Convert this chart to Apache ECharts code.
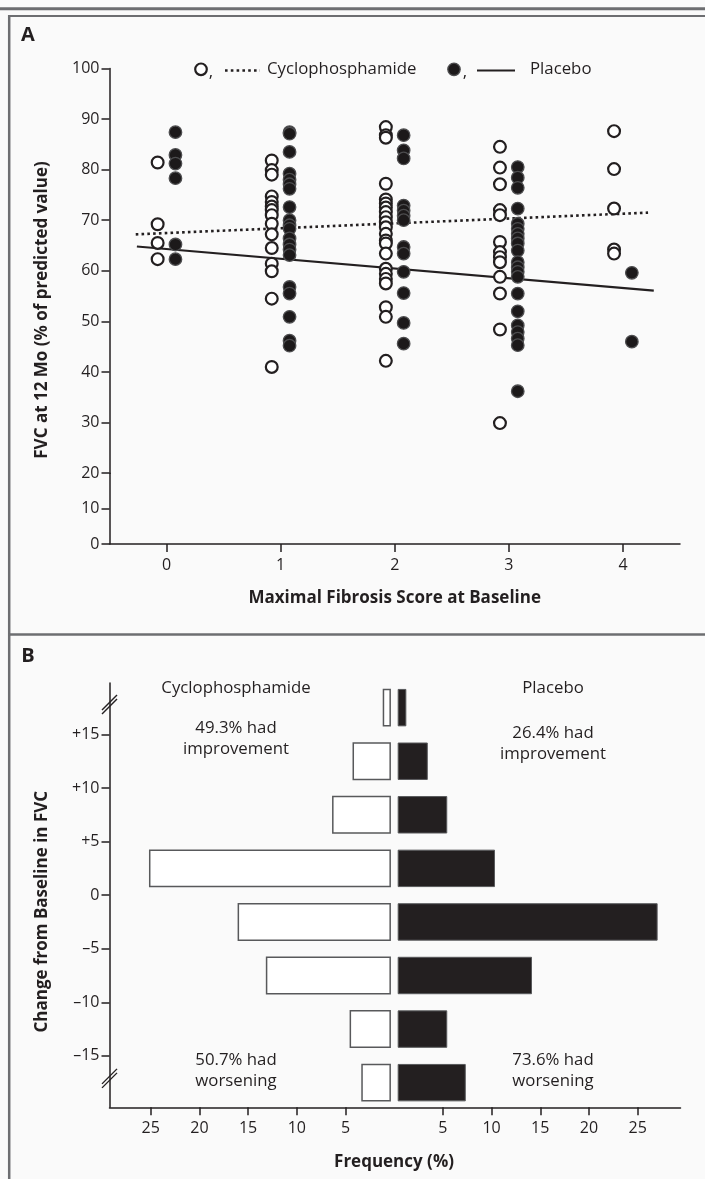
<!DOCTYPE html>
<html>
<head>
<meta charset="utf-8">
<script src="https://cdn.jsdelivr.net/npm/echarts@6/dist/echarts.min.js"></script>
<style>
html,body{margin:0;padding:0;background:#fafafa;}
#c{width:705px;height:1179px;}
</style>
</head>
<body>
<div id="c"></div>
<script>
// ---------- Panel A data (FVC at 12 months, % predicted) ----------
const scores = [0, 1, 2, 3, 4];
const cyclo0 = [81.4, 69.2, 65.5, 62.3];
const cyclo1 = [81.8, 79.9, 79.0, 74.7, 73.6, 72.7, 72.0, 71.0, 69.3, 67.2, 64.5, 61.4, 59.9, 54.5, 41.0];
const cyclo2 = [88.4, 86.8, 86.3, 77.2, 74.1, 73.3, 72.5, 71.6, 70.6, 69.6, 68.6, 67.3, 66.0, 65.4, 63.4, 60.4, 59.4, 58.4, 57.5, 52.8, 50.9, 42.2];
const cyclo3 = [84.5, 80.4, 77.1, 72.0, 71.0, 65.7, 63.7, 62.7, 61.7, 58.8, 55.5, 48.4, 29.9];
const cyclo4 = [87.6, 80.1, 72.3, 64.2, 63.4];
const placebo0 = [87.4, 82.9, 81.2, 78.3, 65.2, 62.3];
const placebo1 = [87.4, 87.1, 83.5, 79.2, 78.0, 77.1, 76.2, 72.6, 70.0, 69.0, 68.3, 66.4, 65.2, 64.2, 63.1, 56.8, 55.5, 50.9, 46.2, 45.2];
const placebo2 = [86.8, 83.8, 82.2, 72.9, 71.9, 70.9, 70.0, 64.7, 63.4, 59.8, 55.6, 49.7, 45.6];
const placebo3 = [80.5, 78.4, 76.4, 72.3, 69.3, 68.3, 67.3, 66.4, 65.4, 64.0, 61.7, 60.7, 59.8, 58.8, 55.5, 52.0, 49.2, 47.9, 46.6, 45.3, 36.2];
const placebo4 = [59.6, 46.0];
const cycloFit = [[-0.27, 67.2], [4.22, 71.5]];
const placeboFit = [[-0.26, 64.8], [4.27, 56.1]];
const fvcTicksUpper = [20, 100, 10];   // min, max, step
const fvcTicksLower = [0, 20, 10];
const scoreTicks = [0, 1, 2, 3, 4];

// ---------- Panel B data (change from baseline in FVC) ----------
const binUpper = [20, 15, 10, 5, 0, -5, -10, -15];
const binLower = [15, 10, 5, 0, -5, -10, -15, -20];
const cycloFreq = [1.1, 4.2, 6.3, 25.1, 16.0, 13.1, 4.5, 3.3];
const placeboFreq = [1.2, 3.4, 5.4, 10.3, 27.0, 14.1, 5.4, 7.3];
const changeTicks = [-15, -10, -5, 0, 5, 10, 15];
const freqTicks = [-25, -20, -15, -10, -5, 5, 10, 15, 20, 25];

// ---------- styling ----------
const ink = '#231f20';
const frame = '#6d6e71';
const FONT = "'Open Sans', 'DejaVu Sans', sans-serif";
const jitter = 0.078;

const cols = [cyclo0, cyclo1, cyclo2, cyclo3, cyclo4];
const pcols = [placebo0, placebo1, placebo2, placebo3, placebo4];
const cycloPts = [], placeboPts = [];
scores.forEach((s, i) => {
  cols[i].forEach(v => cycloPts.push([s - jitter, v]));
  pcols[i].forEach(v => placeboPts.push([s + jitter, v]));
});
const binCenter = binUpper.map((u, i) => (u + binLower[i]) / 2);

const axLine = {show: true, onZero: false, lineStyle: {color: ink, width: 1.5}};
const axTick = {show: true, inside: false, length: 8, lineStyle: {color: ink, width: 1.5}};
const yLabel = {color: ink, fontFamily: FONT, fontSize: 16, margin: 10};
const xLabel = {color: ink, fontFamily: FONT, fontSize: 16, margin: 13};

function barRenderer(side, style) {
  return function (params, api) {
    const f = api.value(0), c = api.value(1);
    const pEnd = api.coord([side * f, c]);
    const p0 = api.coord([0, c]);
    const h = api.size([0, 5])[1] * 0.68;
    const gap = 4;
    let x0, x1;
    if (side < 0) { x0 = pEnd[0]; x1 = p0[0] - gap; } else { x0 = p0[0] + gap; x1 = pEnd[0]; }
    return {type: 'rect', shape: {x: x0, y: p0[1] - h / 2, width: Math.max(x1 - x0, 0), height: h}, style: style};
  };
}

const chart = echarts.init(document.getElementById('c'), null, {renderer: 'canvas'});
const option = {
  animation: false,
  backgroundColor: '#fafafa',
  textStyle: {fontFamily: FONT},
  grid: [
    {left: 109.5, top: 68.4, width: 570.5, height: 404.8, outerBoundsMode: 'none', containLabel: false},
    {left: 109.5, top: 473.2, width: 570.5, height: 70.8, outerBoundsMode: 'none', containLabel: false},
    {left: 109.5, top: 683, width: 571, height: 424.3, outerBoundsMode: 'none', containLabel: false}
  ],
  xAxis: [
    {gridIndex: 0, type: 'value', min: -0.5, max: 4.5, show: false},
    {gridIndex: 1, type: 'value', min: -0.5, max: 4.5, axisLine: axLine,
      axisTick: Object.assign({}, axTick, {customValues: scoreTicks}),
      axisLabel: Object.assign({}, xLabel, {customValues: scoreTicks}),
      splitLine: {show: false}},
    {gridIndex: 2, type: 'value', min: -29.23, max: 29.4, axisLine: axLine,
      axisTick: Object.assign({}, axTick, {customValues: freqTicks}),
      axisLabel: Object.assign({}, xLabel, {customValues: freqTicks,
        formatter: v => String(Math.abs(v))}),
      splitLine: {show: false}}
  ],
  yAxis: [
    {gridIndex: 0, type: 'value', min: fvcTicksUpper[0], max: fvcTicksUpper[1], interval: fvcTicksUpper[2],
      axisLine: axLine, axisTick: axTick, axisLabel: Object.assign({}, yLabel, {showMinLabel: false}),
      splitLine: {show: false}},
    {gridIndex: 1, type: 'value', min: fvcTicksLower[0], max: fvcTicksLower[1], interval: fvcTicksLower[2],
      axisLine: axLine, axisTick: axTick, axisLabel: yLabel, splitLine: {show: false}},
    {gridIndex: 2, type: 'value', min: -19.8, max: 19.8, axisLine: axLine,
      axisTick: Object.assign({}, axTick, {customValues: changeTicks}),
      axisLabel: Object.assign({}, yLabel, {customValues: changeTicks,
        formatter: v => v > 0 ? '+' + v : (v < 0 ? '\u2013' + (-v) : '0')}),
      splitLine: {show: false}}
  ],
  series: [
    {type: 'line', xAxisIndex: 0, yAxisIndex: 0, data: cycloFit, symbol: 'none', z: 2,
      lineStyle: {color: ink, width: 2.6, type: [2.6, 3.2]}},
    {type: 'line', xAxisIndex: 0, yAxisIndex: 0, data: placeboFit, symbol: 'none', z: 2,
      lineStyle: {color: ink, width: 2.2, type: 'solid'}},
    {type: 'scatter', xAxisIndex: 0, yAxisIndex: 0, data: cycloPts, symbol: 'circle', symbolSize: 11.8, z: 3,
      itemStyle: {color: '#ffffff', borderColor: ink, borderWidth: 2.2, opacity: 1}},
    {type: 'scatter', xAxisIndex: 0, yAxisIndex: 0, data: placeboPts, symbol: 'circle', symbolSize: 12.5, z: 4,
      itemStyle: {color: '#1c191a', borderColor: '#4d4d4f', borderWidth: 1.3, opacity: 1}},
    {type: 'custom', xAxisIndex: 2, yAxisIndex: 2, z: 3,
      data: cycloFreq.map((f, i) => [f, binCenter[i]]),
      renderItem: barRenderer(-1, {fill: '#ffffff', stroke: '#58595b', lineWidth: 1.5})},
    {type: 'custom', xAxisIndex: 2, yAxisIndex: 2, z: 3,
      data: placeboFreq.map((f, i) => [f, binCenter[i]]),
      renderItem: barRenderer(1, {fill: '#231f20', stroke: '#58595b', lineWidth: 1})}
  ]
};
chart.setOption(option);

function txt(x, y, s, size, weight, extra) {
  return Object.assign({type: 'text', x: x, y: y, z: 10,
    style: {text: s, fill: ink, fontFamily: FONT, fontSize: size, fontWeight: weight || 'normal',
      textAlign: 'center', align: 'center', textVerticalAlign: 'middle', verticalAlign: 'middle'}}, extra || {});
}
function seg(x1, y1, x2, y2, w, color, dash) {
  const st = {stroke: color, lineWidth: w};
  if (dash) st.lineDash = dash;
  return {type: 'line', z: 10, shape: {x1: x1, y1: y1, x2: x2, y2: y2}, style: st};
}

const bTop = chart.convertToPixel({gridIndex: 2}, [0, 17.8]);
const bBot = chart.convertToPixel({gridIndex: 2}, [0, -17.1]);
const axX = chart.convertToPixel({gridIndex: 2}, [-29.23, 0])[0];

const graphics = [
  // frame
  seg(0, 8.7, 705, 8.7, 3, frame),
  seg(8, 16, 705, 16, 2, frame),
  seg(9.2, 15, 9.2, 1179, 2.5, frame),
  seg(8, 634.5, 705, 634.5, 2.5, frame),
  // panel letters
  txt(28, 35, 'A', 20, 'bold'),
  txt(28, 656.5, 'B', 20, 'bold'),
  // legend
  {type: 'circle', z: 10, shape: {cx: 201, cy: 69.3, r: 5.8}, style: {fill: '#fff', stroke: ink, lineWidth: 2.2}},
  txt(211, 72, ',', 17, 'normal'),
  seg(225, 70.5, 260, 70.5, 2.6, ink, [2.6, 3.2]),
  txt(267, 69.3, 'Cyclophosphamide', 16.8, 'normal', {}),
  {type: 'circle', z: 10, shape: {cx: 454, cy: 69.3, r: 6.2}, style: {fill: '#1c191a', stroke: '#4d4d4f', lineWidth: 1.3}},
  txt(465, 72, ',', 17, 'normal'),
  seg(477, 70.5, 515, 70.5, 2.2, ink),
  txt(530, 69.3, 'Placebo', 16.8, 'normal', {}),
  // axis titles panel A
  txt(42, 310, 'FVC at 12 Mo (% of predicted value)', 17, 'bold', {rotation: Math.PI / 2}),
  txt(394.7, 598.3, 'Maximal Fibrosis Score at Baseline', 17, 'bold'),
  // panel B texts
  txt(236, 688.5, 'Cyclophosphamide', 16.8),
  txt(236, 728, '49.3% had', 16.8),
  txt(236, 749.5, 'improvement', 16.8),
  txt(553, 688.5, 'Placebo', 16.8),
  txt(553, 733.3, '26.4% had', 16.8),
  txt(553, 754.5, 'improvement', 16.8),
  txt(236, 1060.7, '50.7% had', 16.8),
  txt(236, 1081.5, 'worsening', 16.8),
  txt(553, 1060.7, '73.6% had', 16.8),
  txt(553, 1081.5, 'worsening', 16.8),
  txt(42, 911.7, 'Change from Baseline in FVC', 17, 'bold', {rotation: Math.PI / 2}),
  txt(394, 1161.7, 'Frequency (%)', 17, 'bold'),
  // axis break marks
  seg(axX - 7.5, bTop[1] + 9.5, axX + 7.5, bTop[1] - 5.5, 1.4, ink),
  seg(axX - 7.5, bTop[1] + 5.5, axX + 7.5, bTop[1] - 9.5, 1.4, ink),
  seg(axX - 7.5, bBot[1] + 9.5, axX + 7.5, bBot[1] - 5.5, 1.4, ink),
  seg(axX - 7.5, bBot[1] + 5.5, axX + 7.5, bBot[1] - 9.5, 1.4, ink)
];
// left-aligned legend labels
graphics[9].style.textAlign = 'left'; graphics[9].style.align = 'left';
graphics[13].style.textAlign = 'left'; graphics[13].style.align = 'left';
chart.setOption({graphic: graphics});
</script>
</body>
</html>
